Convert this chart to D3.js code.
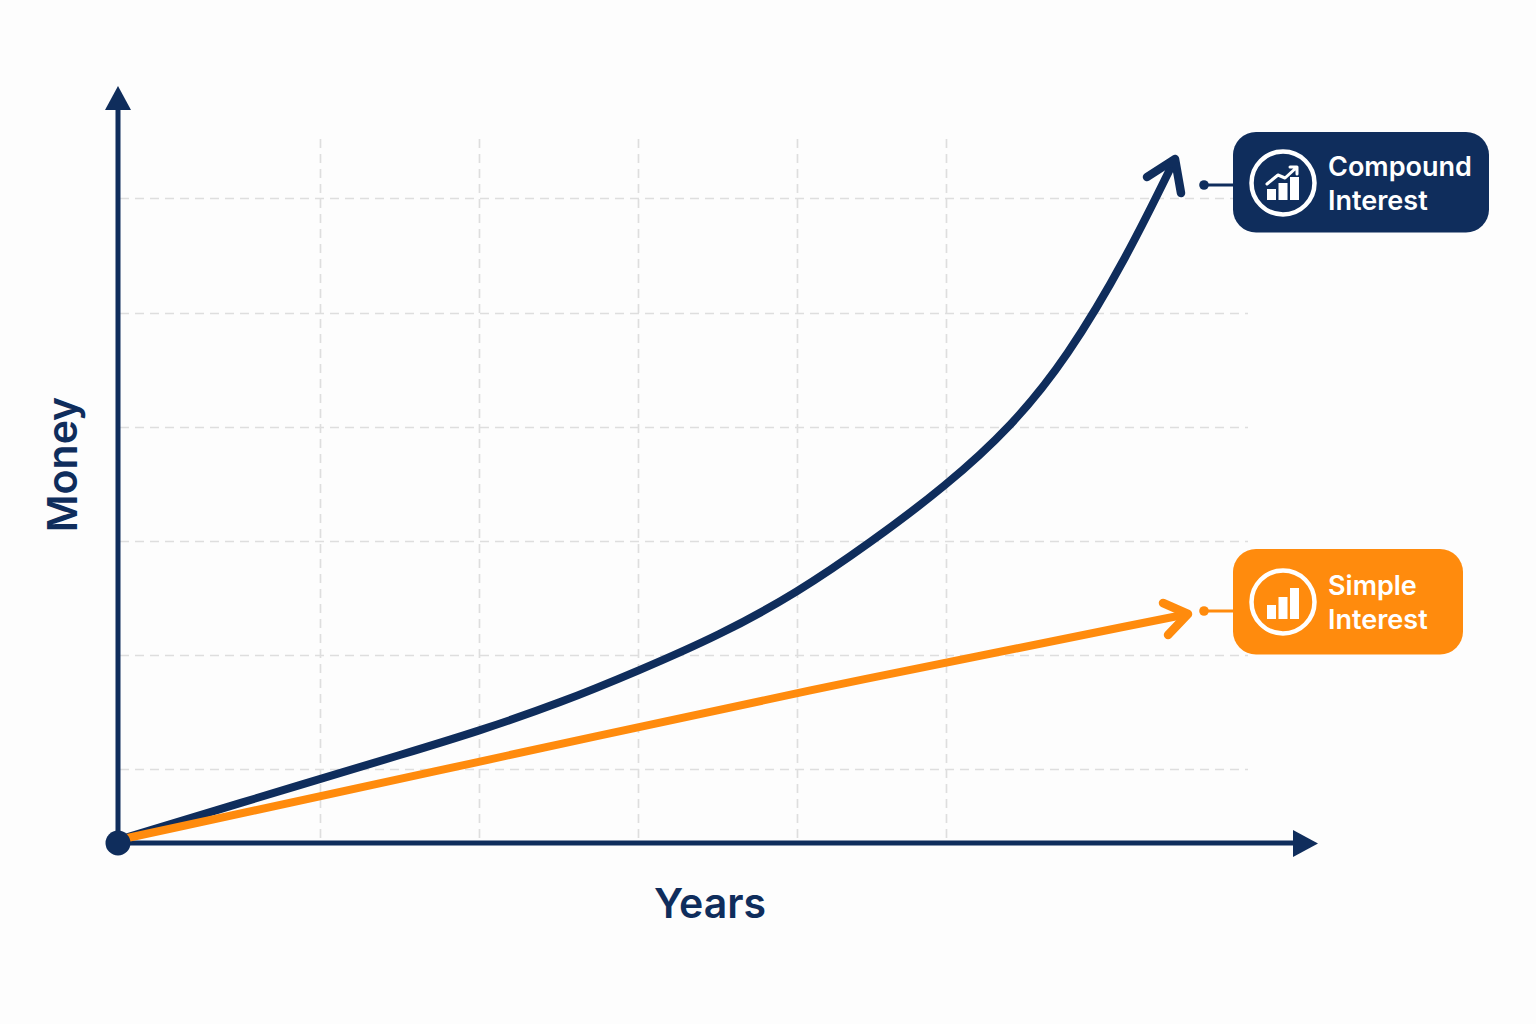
<!DOCTYPE html>
<html>
<head>
<meta charset="utf-8">
<script src="https://cdn.jsdelivr.net/npm/d3@7"></script>
<style>
html,body{margin:0;padding:0;background:#fdfdfd;}
svg{display:block;}
text{font-family:Inter,"Noto Sans",sans-serif;}
</style>
</head>
<body>
<svg id="chart" width="1536" height="1024"></svg>
<script>
// Data (axis units; no numeric labels exist in the reference)
const yearGrid = [2.02, 3.61, 5.20, 6.79, 8.28];
const moneyGrid = [0.74, 1.88, 3.02, 4.16, 5.30, 6.45];
const compoundYears = [0, 2.02, 2.82, 3.61, 4.42, 5.20, 6.02, 6.79, 7.52, 8.28, 8.94, 9.49, 10.09, 10.57];
const compoundMoney = [0.03, 0.64, 0.88, 1.12, 1.40, 1.72, 2.08, 2.50, 3.00, 3.57, 4.17, 4.85, 5.86, 6.84];
const simpleYears = [0, 3.61, 6.79, 10.70];
const simpleMoney = [0.03, 0.81, 1.51, 2.29];
const seriesNames = [["Compound", "Interest"], ["Simple", "Interest"]];
const axisNames = ["Years", "Money"];

const navy = "#0f2d5c", orange = "#ff8b0d", gridColor = "#dedede";
const svg = d3.select("#chart");
const x = d3.scaleLinear().domain([0, 12]).range([118, 1318]);
const y = d3.scaleLinear().domain([0, 7.57]).range([843, 86]);

// Grid
const gridX = d3.axisBottom(x).tickValues(yearGrid).tickFormat("").tickSize(-703).tickSizeOuter(0);
const gx = svg.append("g").attr("transform", "translate(0,838)").call(gridX);
gx.select(".domain").remove();
gx.selectAll("line").attr("stroke", gridColor).attr("stroke-width", 1.7).attr("stroke-dasharray", "9 6");

const gridY = d3.axisLeft(y).tickValues(moneyGrid).tickFormat("").tickSize(-1128).tickSizeOuter(0);
const gy = svg.append("g").attr("transform", "translate(120,0)").call(gridY);
gy.select(".domain").remove();
gy.selectAll("line").attr("stroke", gridColor).attr("stroke-width", 1.7).attr("stroke-dasharray", "9 6");

// Axes
svg.append("line").attr("x1", x(0)).attr("x2", 1296).attr("y1", y(0)).attr("y2", y(0))
  .attr("stroke", navy).attr("stroke-width", 5);
svg.append("line").attr("x1", x(0)).attr("x2", x(0)).attr("y1", y(0)).attr("y2", 108)
  .attr("stroke", navy).attr("stroke-width", 5);
svg.append("path").attr("d", "M1293,830L1318,843.5L1293,857Z").attr("fill", navy);
svg.append("path").attr("d", "M118,86L131,110L105,110Z").attr("fill", navy);

// Series
const line = d3.line().x(d => x(d[0])).y(d => y(d[1])).curve(d3.curveBasis);
const compoundPts = d3.zip(compoundYears, compoundMoney);
const simplePts = d3.zip(simpleYears, simpleMoney);

function arrowHead(pts, color, w, barbA, barbB) {
  const tip = pts[pts.length - 1];
  const tx = x(tip[0]), ty = y(tip[1]);
  svg.append("path")
    .attr("d", `M${tx + barbA[0]},${ty + barbA[1]}L${tx},${ty}L${tx + barbB[0]},${ty + barbB[1]}`)
    .attr("fill", "none").attr("stroke", color).attr("stroke-width", w)
    .attr("stroke-linecap", "round").attr("stroke-linejoin", "round");
}

svg.append("path").attr("d", line(compoundPts))
  .attr("fill", "none").attr("stroke", navy).attr("stroke-width", 8);
arrowHead(compoundPts, navy, 8.5, [-28, 18], [6, 34]);

svg.append("path").attr("d", line(simplePts))
  .attr("fill", "none").attr("stroke", orange).attr("stroke-width", 8);
arrowHead(simplePts, orange, 8.5, [-25, -11], [-20, 21]);

// Origin
svg.append("circle").attr("cx", x(0)).attr("cy", y(0)).attr("r", 12.5).attr("fill", navy);

// Axis titles
svg.append("text").attr("x", 710).attr("y", 918).attr("text-anchor", "middle")
  .attr("font-size", 41).attr("font-weight", 600).attr("fill", navy).text(axisNames[0]);
svg.append("text").attr("transform", "translate(77,464.5) rotate(-90)").attr("text-anchor", "middle")
  .attr("font-size", 41).attr("font-weight", 600).attr("fill", navy).text(axisNames[1]);

// Labels
function label(opts) {
  const { bx, by, bw, bh, color, dotY, cy, names, baseY, bars, trend } = opts;
  svg.append("line").attr("x1", 1204).attr("x2", bx + 2).attr("y1", dotY).attr("y2", dotY)
    .attr("stroke", color).attr("stroke-width", 3);
  svg.append("circle").attr("cx", 1204).attr("cy", dotY).attr("r", 4.8).attr("fill", color);
  svg.append("rect").attr("x", bx).attr("y", by).attr("width", bw).attr("height", bh)
    .attr("rx", 23).attr("fill", color);
  svg.append("circle").attr("cx", 1283).attr("cy", cy).attr("r", 31.5)
    .attr("fill", "none").attr("stroke", "#fff").attr("stroke-width", 4.5);
  svg.selectAll(null).data(bars).enter().append("rect")
    .attr("x", d => d[0]).attr("y", d => d[1]).attr("width", 9).attr("height", d => d[2]).attr("fill", "#fff");
  if (trend) {
    svg.append("path").attr("d", trend).attr("fill", "none").attr("stroke", "#fff")
      .attr("stroke-width", 3).attr("stroke-linecap", "round").attr("stroke-linejoin", "round");
  }
  names.forEach((n, i) => {
    svg.append("text").attr("x", 1328).attr("y", baseY + i * 34)
      .attr("font-size", 27).attr("font-weight", 600).attr("fill", "#fff").text(n);
  });
}
label({ bx: 1233, by: 132, bw: 256, bh: 100.5, color: navy, dotY: 185, cy: 183,
  names: seriesNames[0], baseY: 176,
  bars: [[1267, 189, 11], [1278.5, 183, 17], [1290, 177, 23]],
  trend: "M1267,184L1278,175L1285,178L1296,168M1290,167L1297,167L1297,174" });
label({ bx: 1233, by: 549, bw: 230, bh: 105.5, color: orange, dotY: 611, cy: 602,
  names: seriesNames[1], baseY: 595,
  bars: [[1267, 605, 14], [1278.5, 597, 22], [1290, 588, 31]] });
</script>
</body>
</html>
